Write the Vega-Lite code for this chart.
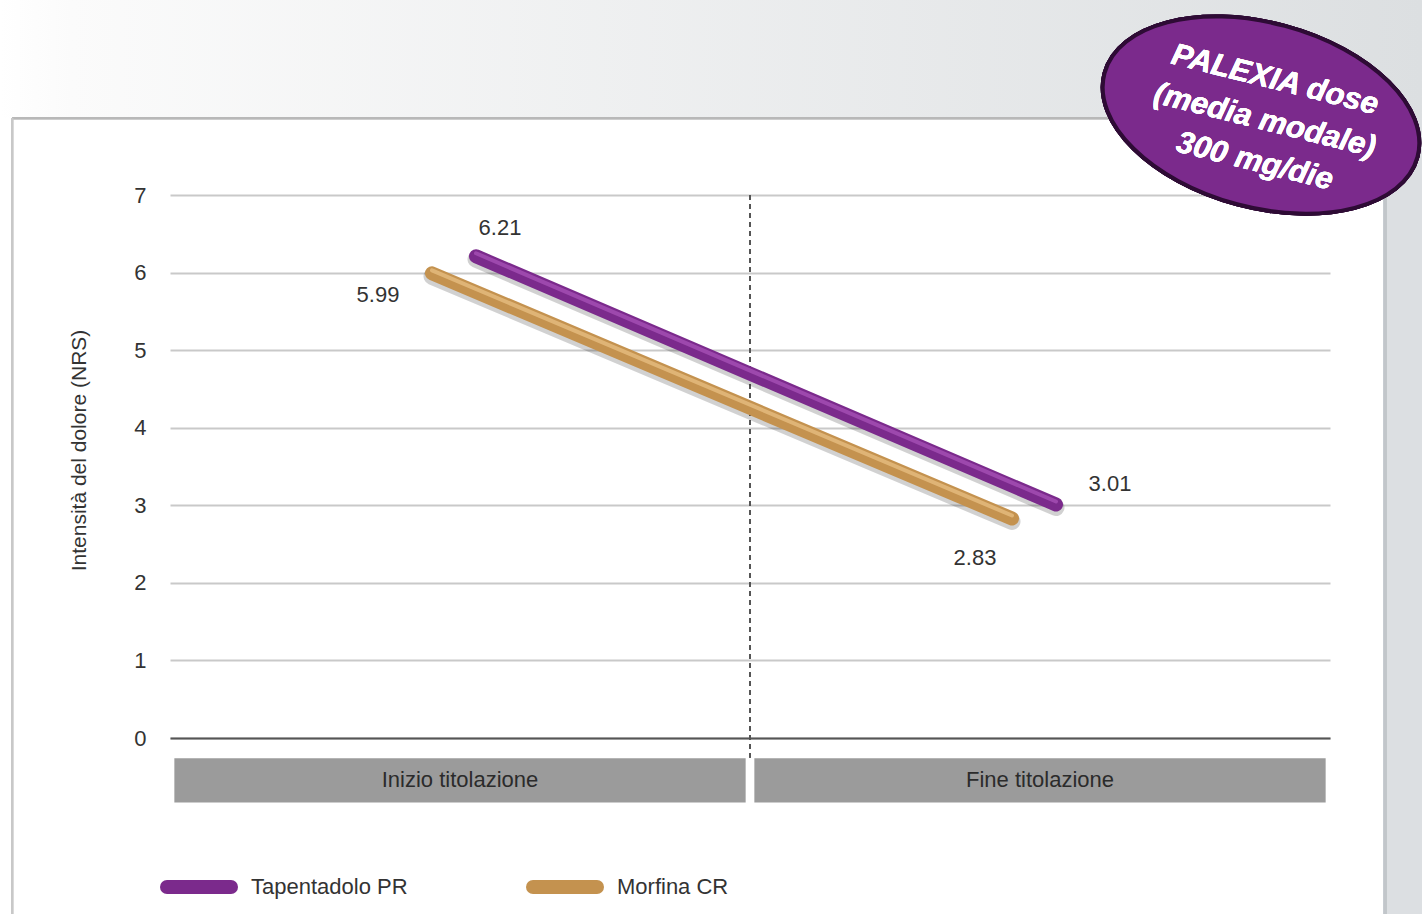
{
  "$schema": "https://vega.github.io/schema/vega-lite/v6.json",
  "width": 1160,
  "height": 543,
  "autosize": {"type": "none"},
  "padding": {"left": 170, "top": 195, "right": 92, "bottom": 176},
  "background": "#ffffff",
  "config": {
    "view": {"stroke": null},
    "font": "Liberation Sans",
    "axis": {"labelFont": "Liberation Sans", "titleFont": "Liberation Sans"}
  },
  "data": {
    "values": [
      {"serie": "Tapentadolo PR", "fase": "Inizio titolazione", "nrs": 6.21},
      {"serie": "Tapentadolo PR", "fase": "Fine titolazione", "nrs": 3.01},
      {"serie": "Morfina CR", "fase": "Inizio titolazione", "nrs": 5.99},
      {"serie": "Morfina CR", "fase": "Fine titolazione", "nrs": 2.83}
    ]
  },
  "layer": [
    {
      "mark": {"type": "rect", "color": {"gradient": "linear", "x1": 0, "x2": 1, "y1": 0, "y2": 0, "stops": [{"offset": 0, "color": "#ffffff"}, {"offset": 0.05, "color": "#fbfbfb"}, {"offset": 1, "color": "#dcdfe1"}]}},
      "encoding": {
        "x": {"datum": "Inizio titolazione", "bandPosition": -0.293, "type": "nominal", "scale": {"type": "band", "domain": ["Inizio titolazione", "Fine titolazione"], "paddingInner": 0, "paddingOuter": 0}, "axis": {"labels": false, "ticks": false, "title": null, "domain": true, "domainColor": "#555555", "domainWidth": 2, "grid": false}},
        "x2": {"datum": "Fine titolazione", "bandPosition": 1.16},
        "y": {"datum": 7.99, "type": "quantitative", "scale": {"domain": [0, 7], "nice": false}, "axis": {"values": [0, 1, 2, 3, 4, 5, 6, 7], "format": "d", "grid": true, "gridColor": "#c9c9c9", "gridWidth": 2, "ticks": false, "domain": false, "labelFontSize": 22, "labelColor": "#333333", "labelPadding": 24, "title": "Intensità del dolore (NRS)", "titleFontSize": 21, "titleFontWeight": "normal", "titleColor": "#333333", "titlePadding": 44, "titleY": 255}},
        "y2": {"datum": 9.6}
      }
    },
    {
      "mark": {"type": "rect", "color": "#dcdfe2"},
      "encoding": {
        "x": {"datum": "Fine titolazione", "bandPosition": 1.093},
        "x2": {"datum": "Fine titolazione", "bandPosition": 1.16},
        "y": {"datum": 7.99},
        "y2": {"datum": -2.4}
      }
    },
    {
      "mark": {"type": "rule", "color": "#c2c6ca", "strokeWidth": 3},
      "encoding": {
        "x": {"datum": "Fine titolazione", "bandPosition": 1.095},
        "y": {"datum": 7.99},
        "y2": {"datum": -2.4}
      }
    },
    {
      "mark": {"type": "rule", "color": "#b8b8b8", "strokeWidth": 2},
      "encoding": {
        "x": {"datum": "Inizio titolazione", "bandPosition": -0.272},
        "x2": {"datum": "Fine titolazione", "bandPosition": 1.093},
        "y": {"datum": 7.99}
      }
    },
    {
      "mark": {"type": "rule", "color": "#c8c8c8", "strokeWidth": 2},
      "encoding": {
        "x": {"datum": "Inizio titolazione", "bandPosition": -0.272},
        "y": {"datum": 7.99},
        "y2": {"datum": -2.4}
      }
    },
    {
      "data": {"values": [{"fase": "Inizio titolazione"}, {"fase": "Fine titolazione"}]},
      "mark": {"type": "bar", "color": "#9b9b9b", "width": {"band": 0.985}},
      "encoding": {
        "x": {"field": "fase", "type": "nominal"},
        "y": {"datum": -0.26},
        "y2": {"datum": -0.83}
      }
    },
    {
      "data": {"values": [{"fase": "Inizio titolazione"}, {"fase": "Fine titolazione"}]},
      "mark": {"type": "text", "fontSize": 22, "color": "#2b2b2b", "baseline": "middle", "align": "center"},
      "encoding": {
        "x": {"field": "fase", "type": "nominal"},
        "y": {"datum": -0.545},
        "text": {"field": "fase"}
      }
    },
    {
      "mark": {"type": "rule", "color": "#555555", "strokeWidth": 2, "strokeDash": [5, 4]},
      "encoding": {
        "x": {"datum": "Fine titolazione", "bandPosition": 0},
        "y": {"datum": 7},
        "y2": {"datum": -0.25}
      }
    },
    {
      "mark": {"type": "line", "color": "#000000", "opacity": 0.18, "strokeWidth": 17, "strokeCap": "round", "yOffset": 3},
      "encoding": {
        "x": {"field": "fase", "type": "nominal"},
        "xOffset": {"field": "serie", "type": "nominal", "scale": {"type": "band", "domain": ["Morfina CR", "Tapentadolo PR"], "range": [240, 328], "paddingInner": 0, "paddingOuter": 0}},
        "y": {"field": "nrs", "type": "quantitative"},
        "detail": {"field": "serie"}
      }
    },
    {
      "mark": {"type": "line", "strokeWidth": 14, "strokeCap": "round"},
      "encoding": {
        "x": {"field": "fase", "type": "nominal"},
        "xOffset": {"field": "serie", "type": "nominal"},
        "y": {"field": "nrs", "type": "quantitative"},
        "color": {
          "field": "serie", "type": "nominal",
          "scale": {"domain": ["Tapentadolo PR", "Morfina CR"], "range": ["#7b2a8c", "#c4924f"]},
          "legend": {
            "title": null, "orient": "none", "legendX": -10, "legendY": 653, "direction": "horizontal",
            "symbolType": "stroke", "symbolStrokeWidth": 14, "symbolSize": 4096,
            "labelFontSize": 22, "labelColor": "#333333", "labelOffset": 13, "columnPadding": 97,
            "labelFont": "Liberation Sans",
            "encode": {"symbols": {"update": {"strokeCap": {"value": "round"}}}}
          }
        }
      }
    },
    {
      "transform": [{"filter": "datum.serie === 'Tapentadolo PR'"}],
      "mark": {"type": "line", "color": "#a650b5", "opacity": 0.8, "strokeWidth": 4, "strokeCap": "round", "yOffset": -3},
      "encoding": {
        "x": {"field": "fase", "type": "nominal"},
        "xOffset": {"field": "serie", "type": "nominal"},
        "y": {"field": "nrs", "type": "quantitative"}
      }
    },
    {
      "transform": [{"filter": "datum.serie === 'Morfina CR'"}],
      "mark": {"type": "line", "color": "#e6bd80", "opacity": 0.8, "strokeWidth": 4, "strokeCap": "round", "yOffset": -3},
      "encoding": {
        "x": {"field": "fase", "type": "nominal"},
        "xOffset": {"field": "serie", "type": "nominal"},
        "y": {"field": "nrs", "type": "quantitative"}
      }
    },
    {
      "transform": [{"filter": "datum.serie === 'Tapentadolo PR' && datum.fase === 'Inizio titolazione'"}],
      "mark": {"type": "text", "fontSize": 22, "color": "#333333", "dx": 24, "dy": -28},
      "encoding": {"x": {"field": "fase", "type": "nominal"}, "xOffset": {"field": "serie", "type": "nominal"}, "y": {"field": "nrs", "type": "quantitative"}, "text": {"field": "nrs", "type": "quantitative", "format": ".2f"}}
    },
    {
      "transform": [{"filter": "datum.serie === 'Morfina CR' && datum.fase === 'Inizio titolazione'"}],
      "mark": {"type": "text", "fontSize": 22, "color": "#333333", "dx": -54, "dy": 22},
      "encoding": {"x": {"field": "fase", "type": "nominal"}, "xOffset": {"field": "serie", "type": "nominal"}, "y": {"field": "nrs", "type": "quantitative"}, "text": {"field": "nrs", "type": "quantitative", "format": ".2f"}}
    },
    {
      "transform": [{"filter": "datum.serie === 'Tapentadolo PR' && datum.fase === 'Fine titolazione'"}],
      "mark": {"type": "text", "fontSize": 22, "color": "#333333", "dx": 54, "dy": -21},
      "encoding": {"x": {"field": "fase", "type": "nominal"}, "xOffset": {"field": "serie", "type": "nominal"}, "y": {"field": "nrs", "type": "quantitative"}, "text": {"field": "nrs", "type": "quantitative", "format": ".2f"}}
    },
    {
      "transform": [{"filter": "datum.serie === 'Morfina CR' && datum.fase === 'Fine titolazione'"}],
      "mark": {"type": "text", "fontSize": 22, "color": "#333333", "dx": -37, "dy": 40},
      "encoding": {"x": {"field": "fase", "type": "nominal"}, "xOffset": {"field": "serie", "type": "nominal"}, "y": {"field": "nrs", "type": "quantitative"}, "text": {"field": "nrs", "type": "quantitative", "format": ".2f"}}
    },
    {
      "mark": {"type": "point", "shape": "M-1,0A1,0.57,0,1,1,1,0A1,0.57,0,1,1,-1,0Z", "filled": true, "fill": "#7b2a8c", "stroke": "#2e0b35", "strokeWidth": 4, "opacity": 1, "size": 104976, "angle": 15},
      "encoding": {
        "x": {"datum": "Fine titolazione", "bandPosition": 0.881},
        "y": {"datum": 8.03}
      }
    },
    {
      "mark": {"type": "text", "text": ["PALEXIA dose", "(media modale)", "300 mg/die"], "font": "Liberation Sans", "fontSize": 31, "fontWeight": "bold", "fontStyle": "italic", "color": "#ffffff", "angle": 14, "lineHeight": 42, "align": "center", "baseline": "middle"},
      "encoding": {
        "x": {"datum": "Fine titolazione", "bandPosition": 0.905},
        "y": {"datum": 8.48}
      }
    }
  ]
}
